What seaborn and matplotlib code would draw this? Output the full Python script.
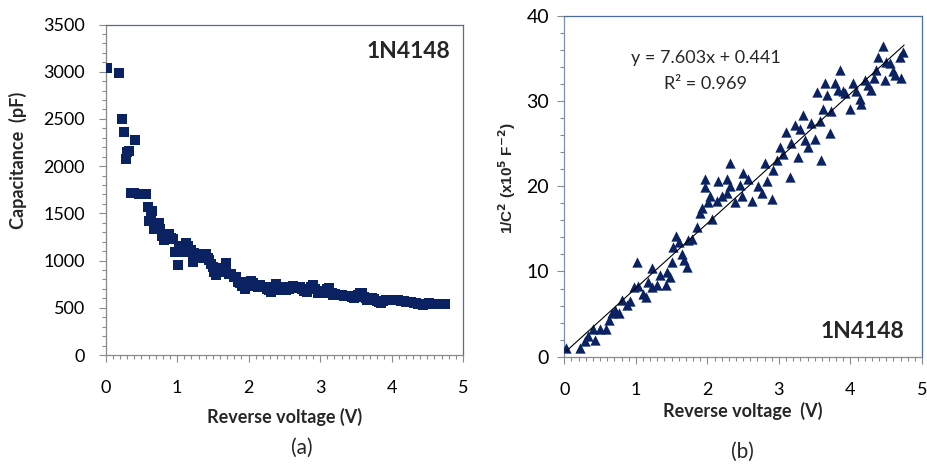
import numpy as np
import pandas as pd
import matplotlib
matplotlib.use("Agg")
import matplotlib.pyplot as plt
from matplotlib.ticker import MultipleLocator
import seaborn as sns

# ---------------- data ----------------
# Panel (a): capacitance vs reverse voltage
volt_a = [0.02, 0.19, 0.23, 0.26, 0.28, 0.30, 0.32, 0.41, 0.35, 0.40,
          0.47, 0.52, 0.56, 0.59, 0.61, 0.63, 0.65, 0.67, 0.68, 0.71,
          0.74, 0.76, 0.79, 0.81, 0.85, 0.88, 0.91, 0.94, 0.97, 1.01,
          1.03, 1.05, 1.08, 1.10, 1.12, 1.15, 1.19, 1.22, 1.24, 1.26,
          1.29, 1.31, 1.34, 1.37, 1.40, 1.43, 1.45, 1.48, 1.50, 1.51,
          1.53, 1.55, 1.58, 1.60, 1.63, 1.66, 1.68, 1.69, 1.72, 1.76,
          1.79, 1.83, 1.85, 1.88, 1.91, 1.95, 1.97, 2.00, 2.03, 2.06,
          2.09, 2.13, 2.16, 2.19, 2.23, 2.26, 2.29, 2.32, 2.35, 2.38,
          2.41, 2.44, 2.47, 2.50, 2.53, 2.56, 2.59, 2.62, 2.66, 2.69,
          2.72, 2.75, 2.78, 2.81, 2.84, 2.87, 2.90, 2.93, 2.97, 3.00,
          3.04, 3.07, 3.10, 3.13, 3.16, 3.18, 3.21, 3.25, 3.28, 3.31,
          3.34, 3.37, 3.41, 3.44, 3.47, 3.50, 3.53, 3.56, 3.58, 3.61,
          3.64, 3.66, 3.70, 3.73, 3.76, 3.79, 3.82, 3.85, 3.88, 3.92,
          3.96, 3.99, 4.02, 4.05, 4.09, 4.13, 4.17, 4.20, 4.24, 4.27,
          4.31, 4.34, 4.37, 4.40, 4.44, 4.47, 4.50, 4.53, 4.57, 4.60,
          4.63, 4.67, 4.71, 4.75]
cap_pf = [3040, 2985, 2500, 2365, 2075, 2150, 2165, 2280, 1720, 1715,
          1705, 1700, 1710, 1565, 1420, 1480, 1530, 1380, 1330, 1370,
          1400, 1330, 1260, 1215, 1250, 1280, 1240, 1225, 1095, 955,
          1120, 1150, 1130, 1095, 1190, 1150, 1110, 990, 1080, 1070,
          1030, 1045, 1060, 1050, 1070, 1030, 1010, 960, 935, 880,
          900, 850, 880, 900, 920, 880, 970, 875, 860, 860,
          830, 830, 770, 760, 730, 695, 775, 740, 780, 765,
          730, 725, 745, 720, 715, 700, 690, 670, 720, 755,
          720, 690, 700, 720, 690, 700, 715, 730, 720, 705,
          715, 695, 680, 670, 700, 720, 740, 700, 655, 670,
          660, 675, 700, 705, 660, 635, 650, 640, 635, 640,
          625, 630, 625, 610, 600, 620, 640, 660, 655, 615,
          600, 585, 605, 600, 590, 575, 560, 550, 575, 585,
          585, 580, 585, 580, 580, 575, 570, 560, 565, 565,
          555, 550, 545, 535, 530, 540, 545, 550, 540, 545,
          540, 545, 540, 535]

# Panel (b): 1/C^2 vs reverse voltage
volt_b = [0.03, 0.22, 0.29, 0.33, 0.40, 0.43, 0.50, 0.58, 0.62, 0.66,
          0.71, 0.77, 0.80, 0.87, 0.92, 0.97, 1.01, 1.03, 1.10, 1.14,
          1.17, 1.22, 1.23, 1.30, 1.34, 1.42, 1.44, 1.48, 1.51, 1.52,
          1.56, 1.61, 1.64, 1.68, 1.71, 1.73, 1.78, 1.85, 1.89, 1.92,
          1.96, 1.97, 2.01, 2.04, 2.07, 2.15, 2.13, 2.20, 2.27, 2.27,
          2.31, 2.32, 2.38, 2.45, 2.49, 2.50, 2.57, 2.62, 2.71, 2.76,
          2.80, 2.83, 2.90, 2.92, 2.97, 3.01, 3.06, 3.10, 3.15, 3.17,
          3.22, 3.27, 3.29, 3.34, 3.37, 3.40, 3.45, 3.50, 3.53, 3.57,
          3.59, 3.62, 3.65, 3.67, 3.71, 3.73, 3.78, 3.83, 3.86, 3.89,
          3.93, 3.99, 4.04, 4.08, 4.13, 4.15, 4.20, 4.25, 4.29, 4.33,
          4.36, 4.39, 4.46, 4.48, 4.50, 4.55, 4.60, 4.62, 4.69, 4.71,
          4.73]
inv_c2 = [1.0, 1.0, 1.8, 2.4, 3.3, 2.0, 3.3, 3.3, 4.3, 5.1,
          5.5, 5.1, 6.7, 6.1, 6.5, 8.2, 11.1, 8.3, 7.4, 7.0,
          8.8, 8.2, 10.4, 8.4, 9.6, 8.4, 9.9, 9.3, 11.1, 12.9,
          14.1, 13.5, 12.1, 11.3, 10.5, 13.7, 13.8, 15.2, 16.8, 17.4,
          19.9, 20.9, 18.2, 18.8, 16.2, 20.6, 18.3, 18.8, 20.9, 19.2,
          20.0, 22.7, 18.2, 20.1, 18.8, 21.6, 20.9, 18.3, 20.0, 19.2,
          22.7, 20.6, 18.5, 21.9, 23.1, 24.6, 23.8, 26.4, 21.1, 25.1,
          27.2, 23.4, 26.7, 28.3, 25.4, 24.6, 27.4, 25.5, 31.1, 27.6,
          23.1, 29.1, 32.1, 30.7, 26.2, 28.8, 32.1, 31.3, 33.6, 31.2,
          30.9, 29.0, 32.1, 31.2, 30.2, 29.6, 32.5, 31.9, 31.3, 32.7,
          33.6, 35.2, 36.4, 32.5, 34.6, 34.4, 33.5, 33.0, 35.2, 32.7,
          35.8]

# linear trendline reported on the chart
fit_slope = 7.603
fit_intercept = 0.441
fit_range = [0.03, 4.75]

# ---------------- style ----------------
sns.set_theme(style="white")
plt.rcParams['font.family'] = ['Lato', 'DejaVu Sans']
plt.rcParams['mathtext.fontset'] = 'dejavusans'

navy = '#0b2262'
gray_ax = '#8a8a8a'
blue_frame = '#4f6e9e'

fig = plt.figure(figsize=(9.27, 4.66), dpi=100)
W, H = 927.0, 466.0
ax1 = fig.add_axes([105.7 / W, (H - 355) / H, (463 - 105.7) / W, (355 - 24.5) / H])
ax2 = fig.add_axes([564.3 / W, (H - 356.7) / H, (922 - 564.3) / W, (356.7 - 15.7) / H])

df_a = pd.DataFrame({'V': volt_a, 'C': cap_pf})
df_b = pd.DataFrame({'V': volt_b, 'invC2': inv_c2})
fit_y = [fit_slope * v + fit_intercept for v in fit_range]
df_fit = pd.DataFrame({'V': fit_range, 'y': fit_y})

sns.scatterplot(data=df_a, x='V', y='C', ax=ax1, marker='s', s=50,
                color=navy, linewidth=0, zorder=3)
sns.scatterplot(data=df_b, x='V', y='invC2', ax=ax2, marker='^', s=55,
                color=navy, linewidth=0, zorder=3)
sns.lineplot(data=df_fit, x='V', y='y', ax=ax2, color='black', lw=0.8, zorder=4)

tick_fs = 13

def style_axes(ax, ymax, ymajor, yminor):
    ax.set_xlim(0, 5)
    ax.set_ylim(0, ymax)
    ax.xaxis.set_major_locator(MultipleLocator(1))
    ax.xaxis.set_minor_locator(MultipleLocator(0.1))
    ax.yaxis.set_major_locator(MultipleLocator(ymajor))
    ax.yaxis.set_minor_locator(MultipleLocator(yminor))
    ax.tick_params(axis='both', which='major', direction='out', length=5,
                   width=0.8, color=gray_ax, labelsize=tick_fs, labelcolor='black',
                   bottom=True, left=True)
    ax.tick_params(axis='both', which='minor', direction='out', length=3.2,
                   width=0.8, color=gray_ax, bottom=True, left=True)
    ax.tick_params(axis='x', which='major', pad=13)
    ax.tick_params(axis='y', which='major', pad=10)
    for side in ['left', 'bottom']:
        ax.spines[side].set_color(gray_ax)
        ax.spines[side].set_linewidth(0.9)
    for side in ['top', 'right']:
        ax.spines[side].set_color(blue_frame)
        ax.spines[side].set_linewidth(0.9)
        ax.spines[side].set_visible(True)
    ax.grid(False)

style_axes(ax1, 3500, 500, 100)
style_axes(ax2, 40, 10, 2)
ax2.spines['left'].set_color('#7d8fae')
ax2.tick_params(axis='y', which='major', labelsize=14, pad=6)

# labels
ax1.set_xlabel('Reverse voltage (V)', fontsize=13, fontweight='bold', va='center')
ax1.xaxis.set_label_coords(0.5, (355 - 417) / 330.5)
ax1.set_ylabel('Capacitance  (pF)', fontsize=13, fontweight='bold', va='center')
ax1.yaxis.set_label_coords((18 - 105.7) / 357.3, (355 - 160) / 330.5)

ax2.set_xlabel('Reverse voltage  (V)', fontsize=13, fontweight='bold', va='center')
ax2.xaxis.set_label_coords(0.5, (356.7 - 411) / 341.0)
ax2.set_ylabel(r'1/C$^{\mathbf{2}}$ (x10$^{\mathbf{5}}$ F$^{\mathbf{-2}}$)', fontsize=11,
               fontweight='bold', va='center', family='Liberation Sans')
ax2.yaxis.set_label_coords((507 - 564.3) / 357.7, (356.7 - 178) / 341.0)

# annotations
ax1.text((408 - 105.7) / 357.3, (355 - 51) / 330.5, '1N4148', transform=ax1.transAxes,
         fontsize=16.5, fontweight='bold', ha='center', va='center')
ax2.text((862 - 564.3) / 357.7, (356.7 - 332) / 341.0, '1N4148', transform=ax2.transAxes,
         fontsize=16.5, fontweight='bold', ha='center', va='center')
ax2.text((706 - 564.3) / 357.7, (356.7 - 58) / 341.0, 'y = 7.603x + 0.441',
         transform=ax2.transAxes, fontsize=13, ha='center', va='center')
ax2.text((706 - 564.3) / 357.7, (356.7 - 84) / 341.0, 'R² = 0.969',
         transform=ax2.transAxes, fontsize=13, ha='center', va='center')

fig.text(302 / W, 1 - 448 / H, '(a)', fontsize=15, ha='center', va='center')
fig.text(742 / W, 1 - 452 / H, '(b)', fontsize=15, ha='center', va='center')

fig.savefig('out.png', dpi=100)
